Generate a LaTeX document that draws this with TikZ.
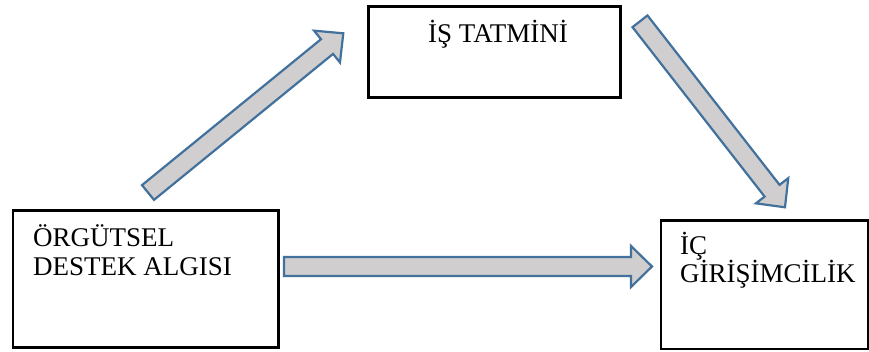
\documentclass[tikz,border=0pt]{standalone}
\usepackage{fontspec}
\setmainfont{Liberation Serif}
\usetikzlibrary{calc}
\definecolor{arrowline}{HTML}{41719C}
\definecolor{arrowfill}{HTML}{D0CECE}
\tikzset{
  box/.style={draw=black, line width=2.6pt, fill=white, inner sep=0pt, anchor=north west},
  boxtext/.style={anchor=base west, inner sep=0pt, font=\fontsize{27}{30}\selectfont},
  barrow/.style={draw=arrowline, fill=arrowfill, line width=2.2pt, line join=miter},
}
\newcommand\blockarrow[2]{%
  \coordinate (#1-neck) at ($(#2)!21pt!(#1)$);
  \draw[barrow]
    ($(#1)!9.5pt!90:(#2)$) --
    ($(#1-neck)!9.5pt!90:(#2)$) --
    ($(#1-neck)!20.5pt!90:(#2)$) --
    (#2) --
    ($(#1-neck)!20.5pt!-90:(#2)$) --
    ($(#1-neck)!9.5pt!-90:(#2)$) --
    ($(#1)!9.5pt!-90:(#2)$) -- cycle;
}
\begin{document}
\begin{tikzpicture}[x=1pt,y=-1pt]
  \useasboundingbox (0,0) rectangle (869,351);
  % boxes
  \node[box, minimum width=265.5pt, minimum height=137pt] (A) at (11.5,209) {};
  \node[box, minimum width=252pt, minimum height=91pt] (B) at (367,5) {};
  \node[box, minimum width=207.5pt, minimum height=128.5pt] (C) at (659.5,219) {};
  % texts
  \node[boxtext] (A1) at (33,246) {ÖRGÜTSEL};
  \node[boxtext] (A2) at (33,275) {DESTEK ALGISI};
  \node[boxtext] (B1) at (428,42) {İŞ TATMİNİ};
  \node[boxtext] (C1) at (680,254) {İÇ};
  \node[boxtext] (C2) at (680,282) {GİRİŞİMCİLİK};
  % arrow end points
  \coordinate (ab-s) at (148,192.5);
  \coordinate (ab-e) at (343.3,33.3);
  \coordinate (bc-s) at (640,21.3);
  \coordinate (bc-e) at (785,207.3);
  \coordinate (ac-s) at (284,266.5);
  \coordinate (ac-e) at (652,266.5);
  \blockarrow{ab-s}{ab-e}
  \blockarrow{bc-s}{bc-e}
  \blockarrow{ac-s}{ac-e}
\end{tikzpicture}
\end{document}
